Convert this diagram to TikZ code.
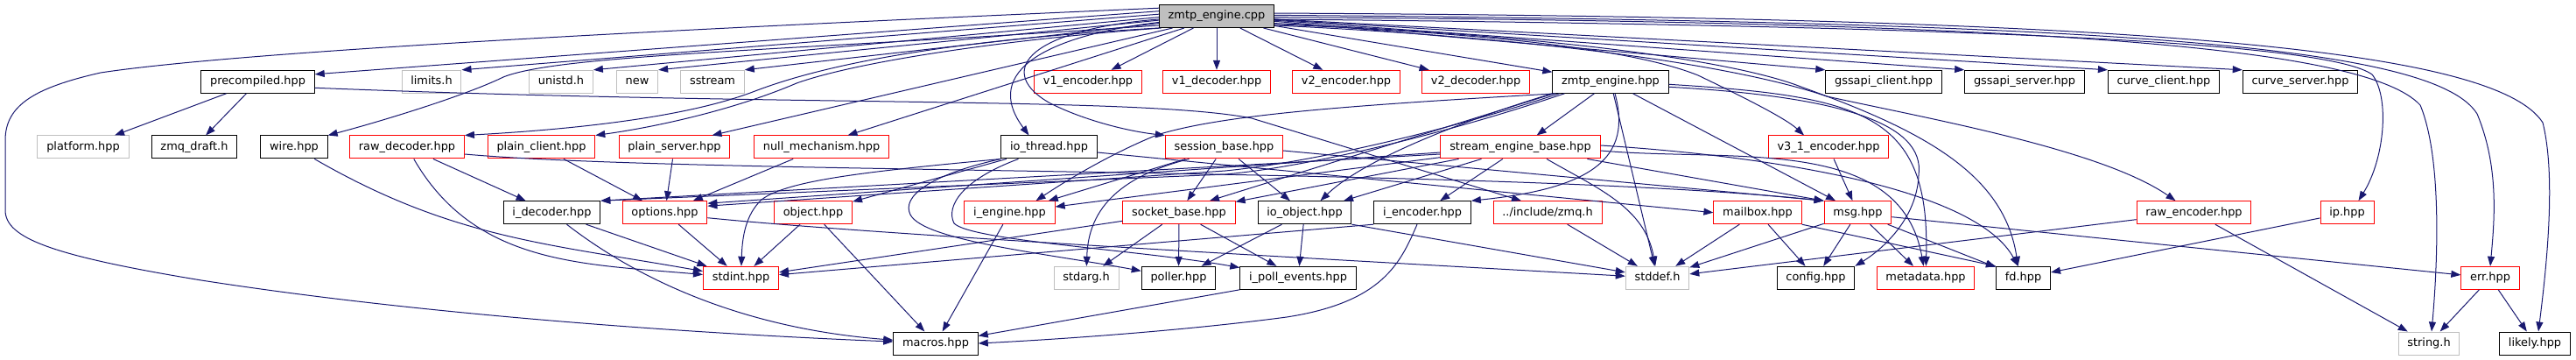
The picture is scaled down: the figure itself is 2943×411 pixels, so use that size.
\documentclass[tikz,border=0pt]{standalone}
\usepackage{fontspec}
\setmainfont{DejaVu Sans}
\usetikzlibrary{arrows.meta}
\definecolor{edgeblue}{HTML}{191970}
\definecolor{boxgrey}{HTML}{BFBFBF}
\definecolor{boxred}{HTML}{FF0000}
\begin{document}
\begin{tikzpicture}[x=1pt,y=-1pt,
    hdr/.style={draw=black,line width=1pt,rectangle,minimum height=26pt,
      inner xsep=10.3pt,inner ysep=0pt,text height=9.8pt,text depth=3.1pt,
      font=\fontsize{12.9}{15}\selectfont},
    hdrroot/.style={hdr,fill=boxgrey},
    hdrred/.style={hdr,draw=boxred},
    hdrsys/.style={hdr,draw=boxgrey},
    dep/.style={draw=edgeblue,line width=1pt,-{Triangle[length=11pt,width=8pt]}}]
  \useasboundingbox (0,0) rectangle (2943,411);

  % the file itself
  \node[hdrroot] (zmtpcpp) at (1390,18.5) {zmtp\_engine.cpp};

  % first level
  \node[hdr] (precompiled) at (294.5,93.3) {precompiled.hpp};
  \node[hdrsys] (limits) at (493,93.3) {limits.h};
  \node[hdrsys] (unistd) at (641,93.3) {unistd.h};
  \node[hdrsys] (new) at (728,93.3) {new};
  \node[hdrsys] (sstream) at (814,93.3) {sstream};
  \node[hdrred] (v1enc) at (1243,93.3) {v1\_encoder.hpp};
  \node[hdrred] (v1dec) at (1390,93.3) {v1\_decoder.hpp};
  \node[hdrred] (v2enc) at (1538,93.3) {v2\_encoder.hpp};
  \node[hdrred] (v2dec) at (1686,93.3) {v2\_decoder.hpp};
  \node[hdr] (zmtphpp) at (1840,93.3) {zmtp\_engine.hpp};
  \node[hdr] (gssclient) at (2152,93.3) {gssapi\_client.hpp};
  \node[hdr] (gssserver) at (2313,93.3) {gssapi\_server.hpp};
  \node[hdr] (curveclient) at (2472,93.3) {curve\_client.hpp};
  \node[hdr] (curveserver) at (2628,93.3) {curve\_server.hpp};

  % second level
  \node[hdrsys] (platform) at (95,168) {platform.hpp};
  \node[hdr] (zmqdraft) at (222,168) {zmq\_draft.h};
  \node[hdr] (wire) at (336,168) {wire.hpp};
  \node[hdrred] (rawdec) at (465,168) {raw\_decoder.hpp};
  \node[hdrred] (plainclient) at (618.5,168) {plain\_client.hpp};
  \node[hdrred] (plainserver) at (770.5,168) {plain\_server.hpp};
  \node[hdrred] (nullmech) at (938.5,168) {null\_mechanism.hpp};
  \node[hdr] (iothread) at (1198.5,168) {io\_thread.hpp};
  \node[hdrred] (sessionbase) at (1398.5,168) {session\_base.hpp};
  \node[hdrred] (streambase) at (1737,168) {stream\_engine\_base.hpp};
  \node[hdrred] (v31enc) at (2089,168) {v3\_1\_encoder.hpp};

  % third level
  \node[hdr] (idecoder) at (630.5,242.7) {i\_decoder.hpp};
  \node[hdrred] (options) at (759.5,242.7) {options.hpp};
  \node[hdrred] (object) at (929,242.7) {object.hpp};
  \node[hdrred] (iengine) at (1153.5,242.7) {i\_engine.hpp};
  \node[hdrred] (socketbase) at (1347,242.7) {socket\_base.hpp};
  \node[hdr] (ioobject) at (1490.5,242.7) {io\_object.hpp};
  \node[hdr] (iencoder) at (1625,242.7) {i\_encoder.hpp};
  \node[hdrred] (zmqh) at (1768,242.7) {../include/zmq.h};
  \node[hdrred] (mailbox) at (2008,242.7) {mailbox.hpp};
  \node[hdrred] (msg) at (2122.5,242.7) {msg.hpp};
  \node[hdrred] (rawenc) at (2506.5,242.7) {raw\_encoder.hpp};
  \node[hdrred] (ip) at (2681.5,242.7) {ip.hpp};

  % fourth level
  \node[hdrred] (stdint) at (846.5,317.3) {stdint.hpp};
  \node[hdrsys] (stdarg) at (1241,317.3) {stdarg.h};
  \node[hdr] (poller) at (1346.5,317.3) {poller.hpp};
  \node[hdr] (ipollevents) at (1483,317.3) {i\_poll\_events.hpp};
  \node[hdrsys] (stddef) at (1893.5,317.3) {stddef.h};
  \node[hdr] (config) at (2074.5,317.3) {config.hpp};
  \node[hdrred] (metadata) at (2200,317.3) {metadata.hpp};
  \node[hdr] (fd) at (2311.5,317.3) {fd.hpp};
  \node[hdrred] (err) at (2845,317.3) {err.hpp};

  % last level
  \node[hdr] (macros) at (1069,392) {macros.hpp};
  \node[hdrsys] (stringh) at (2775,392) {string.h};
  \node[hdr] (likely) at (2896,392) {likely.hpp};

  % includes of zmtp_engine.cpp, left side
  \draw[dep] (zmtpcpp.172) .. controls (900,28) and (300,55) .. (115,83)
    .. controls (40,100) and (6,120) .. (6,160) -- (6,240)
    .. controls (6,272) and (60,292) .. (230,320)
    .. controls (500,362) and (820,382) .. (macros);
  \draw[dep] (zmtpcpp.175) -- ([yshift=-5]precompiled.north east);
  \draw[dep] (zmtpcpp.178) -- (limits.north east);
  \draw[dep] (zmtpcpp.181) -- (unistd.north east);
  \draw[dep] (zmtpcpp.184) -- (new.north east);
  \draw[dep] (zmtpcpp.187) -- (sstream.north east);
  \draw[dep] (zmtpcpp.189) .. controls (900,58) and (640,62) .. (575,88)
    .. controls (530,110) and (430,140) .. (wire.north east);
  \draw[dep] (zmtpcpp.south west) .. controls (1100,45) and (950,70) .. (860,105)
    .. controls (780,135) and (650,148) .. (rawdec.north east);
  \draw[dep] (zmtpcpp.192) .. controls (1150,45) and (980,70) .. (910,95)
    .. controls (840,125) and (750,145) .. (plainclient.north east);
  \draw[dep] (zmtpcpp.195) -- ([xshift=43]plainserver.north);
  \draw[dep] (zmtpcpp.200) -- ([xshift=30]nullmech.north);
  \draw[dep] (zmtpcpp.186) .. controls (1200,40) and (1120,80) .. ([xshift=-23]iothread.north);
  \draw[dep] (zmtpcpp.183) .. controls (1165,35) and (1140,85) .. (1200,118)
    .. controls (1240,138) and (1290,150) .. (sessionbase.north west);

  % includes of zmtp_engine.cpp, below and right side
  \draw[dep] (zmtpcpp) -- (v1enc);
  \draw[dep] (zmtpcpp) -- (v1dec);
  \draw[dep] (zmtpcpp) -- (v2enc);
  \draw[dep] (zmtpcpp) -- (v2dec);
  \draw[dep] (zmtpcpp) -- (zmtphpp);
  \draw[dep] (zmtpcpp) -- (gssclient.north west);
  \draw[dep] (zmtpcpp) -- (gssserver.north west);
  \draw[dep] (zmtpcpp) -- (curveclient.north west);
  \draw[dep] (zmtpcpp) -- (curveserver.north west);
  \draw[dep] (zmtpcpp.-8) .. controls (1750,40) and (1880,62) .. (1940,86)
    .. controls (1990,110) and (2040,135) .. ([xshift=-28]v31enc.north);
  \draw[dep] (zmtpcpp.-9) .. controls (1800,45) and (2000,80) .. (2087,110)
    .. controls (2200,135) and (2400,170) .. ([xshift=-21]rawenc.north);
  \draw[dep] (zmtpcpp.-7) .. controls (1800,42) and (1990,72) .. (2060,100)
    .. controls (2200,150) and (2290,200) .. ([xshift=-6]fd.north);
  \draw[dep] (zmtpcpp.-3) .. controls (2300,30) and (2660,50) .. (2710,85)
    .. controls (2730,110) and (2725,180) .. ([xshift=13]ip.north);
  \draw[dep] (zmtpcpp.-1) .. controls (2300,25) and (2700,50) .. (2765,120)
    .. controls (2790,180) and (2785,300) .. ([xshift=3]stringh.north);
  \draw[dep] (zmtpcpp.1) .. controls (2400,25) and (2780,50) .. (2830,130)
    .. controls (2855,190) and (2850,250) .. (err.north);
  \draw[dep] (zmtpcpp.3) .. controls (2450,20) and (2850,55) .. (2905,140)
    .. controls (2920,200) and (2910,300) .. ([xshift=4]likely.north);

  % precompiled.hpp, wire.hpp, raw_decoder.hpp
  \draw[dep] (precompiled) -- (platform);
  \draw[dep] (precompiled) -- (zmqdraft);
  \draw[dep] ([yshift=-7]precompiled.east) .. controls (900,122) and (1300,110) .. (1430,135)
    -- ([xshift=-30]zmqh.north);
  \draw[dep] (wire) to[out=-30,in=170] (stdint);
  \draw[dep] (rawdec) -- (idecoder);
  \draw[dep] (rawdec) to[out=-60,in=175] (stdint);
  \draw[dep] ([yshift=-8]rawdec.east) .. controls (800,200) and (1700,190) .. (msg.north west);

  % mechanisms
  \draw[dep] (plainclient) -- (options);
  \draw[dep] (plainserver) -- (options);
  \draw[dep] (nullmech) -- (options);

  % io_thread.hpp
  \draw[dep] (iothread) -- (object);
  \draw[dep] ([yshift=-6]iothread.east) -- (mailbox.west);
  \draw[dep] (iothread.south west) .. controls (1060,200) and (1030,225) .. (1040,245)
    .. controls (1055,275) and (1200,290) .. (poller);
  \draw[dep] ([xshift=-35]iothread.south) .. controls (1100,205) and (1080,235) .. (1090,255)
    .. controls (1110,275) and (1300,285) .. (ipollevents);
  \draw[dep] (iothread.south west) .. controls (1000,195) and (900,205) .. (870,228)
    .. controls (852,245) and (848,270) .. (stdint);

  % session_base.hpp
  \draw[dep] ([xshift=-40]sessionbase.south) .. controls (1265,205) and (1243,250) .. (stdarg);
  \draw[dep] (sessionbase) -- (socketbase);
  \draw[dep] (sessionbase) -- (ioobject);
  \draw[dep] (sessionbase) -- (iengine);
  \draw[dep] ([yshift=-4]sessionbase.east) -- (msg.north west);

  % zmtp_engine.hpp
  \draw[dep] (zmtphpp) -- (streambase);
  \draw[dep] (zmtphpp) -- (msg);
  \draw[dep] (zmtphpp) -- (stddef);
  \draw[dep] ([xshift=5]zmtphpp.south) .. controls (1865,180) and (1820,215) .. (iencoder.north east);
  \draw[dep] (zmtphpp.south west) .. controls (1680,135) and (1560,180) .. ([xshift=18]ioobject.north);
  \draw[dep] ([xshift=2]zmtphpp.south west) -- ([xshift=35]socketbase.north);
  \draw[dep] ([xshift=4]zmtphpp.south west) .. controls (1550,120) and (1400,130) .. (1322,154)
    .. controls (1270,175) and (1220,205) .. ([xshift=30]iengine.north);
  \draw[dep] ([xshift=8]zmtphpp.south west) .. controls (1650,150) and (1500,185) .. (1400,195)
    -- ([yshift=-6]options.north east);
  \draw[dep] ([xshift=14]zmtphpp.south west) .. controls (1660,150) and (1500,190) .. (1400,199)
    -- (idecoder.north east);
  \draw[dep] ([yshift=-3]zmtphpp.east) .. controls (2130,110) and (2205,130) .. (metadata);
  \draw[dep] ([yshift=-6]zmtphpp.east) .. controls (2100,110) and (2200,140) .. (2192,200)
    .. controls (2190,250) and (2150,285) .. (config.north east);

  % stream_engine_base.hpp
  \draw[dep] (streambase) -- (iengine);
  \draw[dep] (streambase) -- (socketbase);
  \draw[dep] (streambase) -- (ioobject);
  \draw[dep] (streambase) -- (iencoder);
  \draw[dep] ([yshift=-6]streambase.west) -- ([yshift=-3]options.north east);
  \draw[dep] ([yshift=-8]streambase.west) -- (idecoder.north east);
  \draw[dep] ([xshift=30]streambase.south) to[out=-30,in=100] (stddef);
  \draw[dep] (streambase) -- (msg.north west);
  \draw[dep] ([yshift=-4]streambase.east) to[out=-5,in=100] (metadata);
  \draw[dep] ([yshift=2]streambase.east) .. controls (2050,180) and (2260,220) .. ([xshift=-6]fd.north);

  % third level to fourth level
  \draw[dep] (idecoder) -- (stdint);
  \draw[dep] ([xshift=17]idecoder.south) .. controls (730,320) and (850,375) .. (macros);
  \draw[dep] (options) -- (stdint);
  \draw[dep] ([yshift=-6]options.east) .. controls (1000,268) and (1500,295) .. (stddef);
  \draw[dep] (object) -- (stdint);
  \draw[dep] (object) -- (macros);
  \draw[dep] (iengine) -- (macros);
  \draw[dep] (socketbase) -- (stdarg);
  \draw[dep] (socketbase) -- (poller);
  \draw[dep] (socketbase) -- (ipollevents);
  \draw[dep] (socketbase) -- (stdint);
  \draw[dep] (ioobject) -- (poller);
  \draw[dep] (ioobject) -- (ipollevents);
  \draw[dep] (ioobject.south east) -- (stddef);
  \draw[dep] (iencoder.south west) -- (stdint);
  \draw[dep] ([xshift=-6]iencoder.south) .. controls (1600,300) and (1580,345) .. (1470,362)
    .. controls (1350,378) and (1200,388) .. (macros.east);
  \draw[dep] (ipollevents.south west) -- (macros);
  \draw[dep] (zmqh) -- (stddef);
  \draw[dep] (mailbox) -- (stddef);
  \draw[dep] (mailbox) -- (config);
  \draw[dep] (mailbox.south east) -- (fd.north west);
  \draw[dep] (msg) -- (stddef);
  \draw[dep] (msg) -- (config);
  \draw[dep] (msg) -- (metadata);
  \draw[dep] (msg) -- (fd);
  \draw[dep] ([yshift=-5]msg.east) -- (err);
  \draw[dep] (v31enc) -- (msg);
  \draw[dep] (rawenc) -- (stddef);
  \draw[dep] (rawenc) -- (stringh);
  \draw[dep] (ip) -- (fd);
  \draw[dep] (err) -- (stringh);
  \draw[dep] (err) -- (likely);
\end{tikzpicture}
\end{document}
